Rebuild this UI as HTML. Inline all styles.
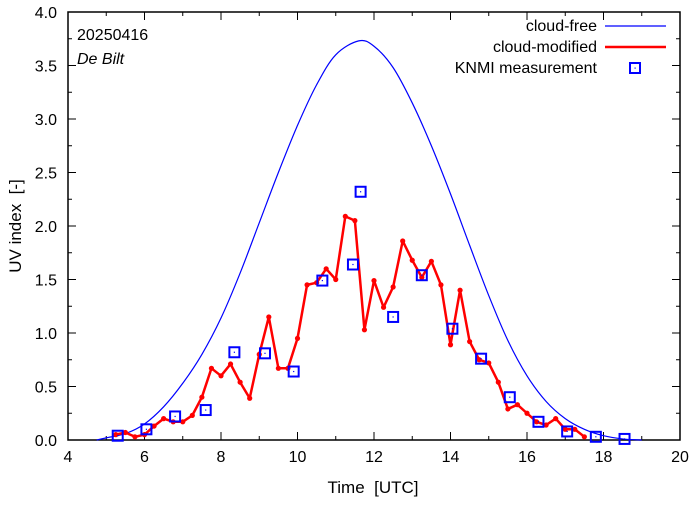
<!DOCTYPE html>
<html><head><meta charset="utf-8"><style>
body{margin:0;background:#fff}
svg text{font-family:"Liberation Sans",sans-serif;fill:#000}
</style></head><body>
<svg id="chart" width="694" height="501" viewBox="0 0 694 501">
<rect x="0" y="0" width="694" height="501" fill="#fff"/>
<g id="axes"></g>
<g id="series"></g>
<text x="77" y="40" font-size="16">20250416</text>
<text x="77" y="64" font-size="16" font-style="italic">De Bilt</text>
<text x="373" y="493" font-size="17" text-anchor="middle">Time &#160;[UTC]</text>
<text transform="translate(21,226) rotate(-90)" font-size="17" text-anchor="middle">UV index &#160;[-]</text>
<g>
<text x="597" y="31" font-size="16" text-anchor="end">cloud-free</text>
<line x1="605" y1="26" x2="666" y2="26" stroke="#0000ff" stroke-width="1.2"/>
<text x="597" y="52" font-size="16" text-anchor="end">cloud-modified</text>
<line x1="605" y1="47" x2="666" y2="47" stroke="#ff0000" stroke-width="2.5"/>
<text x="597" y="73" font-size="16" text-anchor="end">KNMI measurement</text>
<rect x="630" y="63" width="10" height="10" fill="none" stroke="#0000ff" stroke-width="2"/>
<rect x="634.5" y="67.5" width="1.2" height="1.2" fill="#0000ff"/>
</g>
</svg>
<script>
const clearX=[4.75,5,5.5,6,6.5,7,7.5,8,8.5,9,9.5,10,10.5,11,11.6,12,12.5,13,13.5,14,14.5,15,15.5,16,16.5,17,17.5,18,18.5,19];
const clearY=[0,0.02,0.06,0.15,0.31,0.53,0.8,1.14,1.56,2.03,2.5,2.94,3.32,3.6,3.73,3.68,3.48,3.15,2.75,2.3,1.82,1.35,0.93,0.6,0.36,0.2,0.1,0.04,0.01,0];
const cloudX=[5.25,5.5,5.75,6,6.25,6.5,6.75,7,7.25,7.5,7.75,8,8.25,8.5,8.75,9,9.25,9.5,9.75,10,10.25,10.5,10.75,11,11.25,11.5,11.75,12,12.25,12.5,12.75,13,13.25,13.5,13.75,14,14.25,14.5,14.75,15,15.25,15.5,15.75,16,16.25,16.5,16.75,17,17.25,17.5];
const cloudY=[0.05,0.07,0.03,0.05,0.13,0.2,0.17,0.17,0.23,0.4,0.67,0.6,0.71,0.54,0.39,0.8,1.15,0.67,0.67,0.95,1.45,1.47,1.6,1.5,2.09,2.05,1.03,1.49,1.24,1.43,1.86,1.68,1.52,1.67,1.45,0.89,1.4,0.92,0.75,0.72,0.54,0.29,0.33,0.25,0.17,0.14,0.2,0.1,0.1,0.03];
const measX=[5.3,6.05,6.8,7.6,8.35,9.15,9.9,10.65,11.45,11.65,12.5,13.25,14.05,14.8,15.55,16.3,17.05,17.8,18.55];
const measY=[0.04,0.1,0.22,0.28,0.82,0.81,0.64,1.49,1.64,2.32,1.15,1.54,1.04,0.76,0.4,0.17,0.08,0.03,0.01];
const xTicks=[4,6,8,10,12,14,16,18,20];
const yTicks=["0.0","0.5","1.0","1.5","2.0","2.5","3.0","3.5","4.0"];

const X0=68,X1=680,Y0=440,Y1=12;
const sx=v=>X0+(v-4)/16*(X1-X0);
const sy=v=>Y0-v/4*(Y0-Y1);
const NS="http://www.w3.org/2000/svg";
function mk(tag,parent,attrs){const e=document.createElementNS(NS,tag);for(const k in attrs)e.setAttribute(k,attrs[k]);parent.appendChild(e);return e;}
const axes=document.getElementById('axes'),ser=document.getElementById('series');
const frame=mk('rect',axes,{x:X0,y:Y1,width:X1-X0,height:Y0-Y1,fill:'none',stroke:'#000','stroke-width':1.5});


for(let v=4;v<=20;v+=1){const x=sx(v);const L=(v%2===0)?8:4;
mk('line',axes,{x1:x,y1:Y0,x2:x,y2:Y0-L,stroke:'#000','stroke-width':1});
mk('line',axes,{x1:x,y1:Y1,x2:x,y2:Y1+L,stroke:'#000','stroke-width':1});}
xTicks.forEach(v=>{const t=mk('text',axes,{x:sx(v),y:Y0+22,'font-size':16,'text-anchor':'middle'});t.textContent=v;

});
for(let i=0;i<=16;i++){const v=i*0.25,y=sy(v),L=(i%2===0)?8:4;
mk('line',axes,{x1:X0,y1:y,x2:X0+L,y2:y,stroke:'#000','stroke-width':1});
mk('line',axes,{x1:X1,y1:y,x2:X1-L,y2:y,stroke:'#000','stroke-width':1});}
yTicks.forEach((s,i)=>{const t=mk('text',axes,{x:X0-11,y:sy(i*0.5)+6,'font-size':16,'text-anchor':'end'});t.textContent=s;

});
const P=clearX.map((v,i)=>[sx(v),sy(clearY[i])]);
let d='M'+P[0][0]+','+P[0][1];
for(let i=0;i<P.length-1;i++){const p0=P[Math.max(0,i-1)],p1=P[i],p2=P[i+1],p3=P[Math.min(P.length-1,i+2)];
d+=` C${p1[0]+(p2[0]-p0[0])/6},${p1[1]+(p2[1]-p0[1])/6} ${p2[0]-(p3[0]-p1[0])/6},${p2[1]-(p3[1]-p1[1])/6} ${p2[0]},${p2[1]}`;}
const cf=mk('path',ser,{d:d,fill:'none',stroke:'#0000ff','stroke-width':1.2});


const cm=mk('polyline',ser,{points:cloudX.map((v,i)=>sx(v)+','+sy(cloudY[i])).join(' '),fill:'none',stroke:'#ff0000','stroke-width':2.5,'stroke-linejoin':'round'});


cloudX.forEach((v,i)=>{const c=mk('circle',ser,{cx:sx(v),cy:sy(cloudY[i]),r:2.6,fill:'#ff0000'});

});
measX.forEach((v,i)=>{const x=sx(v),y=sy(measY[i]);
const r=mk('rect',ser,{x:x-5,y:y-5,width:10,height:10,fill:'none',stroke:'#0000ff','stroke-width':2});


mk('rect',ser,{x:x-0.6,y:y-0.6,width:1.2,height:1.2,fill:'#0000ff'});});
</script>
</body></html>
